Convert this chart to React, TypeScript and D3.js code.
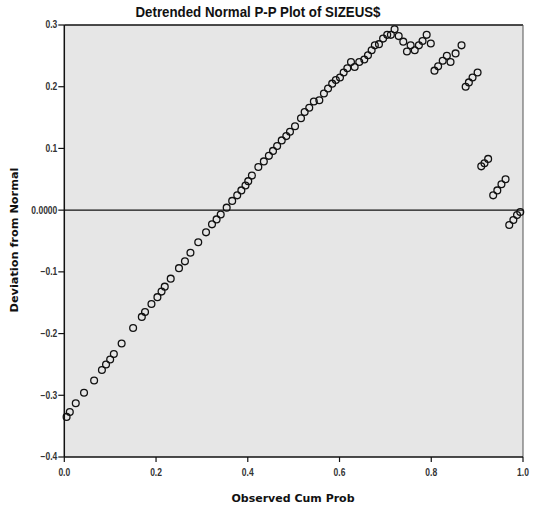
import React from "react";
import * as d3 from "d3";

const title = "Detrended Normal P-P Plot of SIZEUS$";
const xLabel = "Observed Cum Prob";
const yLabel = "Deviation from Normal";
const xTicks = [0, 0.2, 0.4, 0.6, 0.8, 1.0];
const yTicks = [0.3, 0.2, 0.1, 0.0, -0.1, -0.2, -0.3, -0.4];

const obsProb = [
  0.005, 0.012, 0.025, 0.043, 0.065, 0.082, 0.091, 0.1, 0.108, 0.125,
  0.15, 0.169, 0.176, 0.19, 0.203, 0.212, 0.219, 0.232, 0.25, 0.263,
  0.275, 0.292, 0.309, 0.322, 0.332, 0.341, 0.354, 0.366, 0.377, 0.386,
  0.395, 0.401, 0.409, 0.423, 0.435, 0.446, 0.455, 0.464, 0.474, 0.484,
  0.492, 0.503, 0.516, 0.524, 0.534, 0.544, 0.556, 0.566, 0.575, 0.584,
  0.592, 0.601, 0.609, 0.617, 0.625, 0.633, 0.643, 0.654, 0.662, 0.67,
  0.677, 0.686, 0.695, 0.704, 0.712, 0.72, 0.729, 0.739, 0.747, 0.755,
  0.764, 0.773, 0.781, 0.79, 0.799, 0.807, 0.815, 0.825, 0.834, 0.842,
  0.853, 0.866, 0.875, 0.882, 0.89, 0.901, 0.909, 0.916, 0.924, 0.935,
  0.944, 0.953, 0.962, 0.97, 0.979, 0.987, 0.994,
];
const deviation = [
  -0.335, -0.327, -0.313, -0.296, -0.276, -0.259, -0.25, -0.242, -0.233, -0.216,
  -0.191, -0.173, -0.165, -0.152, -0.141, -0.132, -0.124, -0.111, -0.094, -0.083,
  -0.069, -0.052, -0.036, -0.023, -0.015, -0.007, 0.004, 0.015, 0.024, 0.032,
  0.04, 0.047, 0.056, 0.07, 0.079, 0.088, 0.096, 0.104, 0.113, 0.12,
  0.127, 0.136, 0.149, 0.159, 0.166, 0.176, 0.178, 0.189, 0.197, 0.205,
  0.211, 0.215, 0.223, 0.23, 0.24, 0.232, 0.24, 0.244, 0.251, 0.259,
  0.267, 0.269, 0.278, 0.284, 0.284, 0.293, 0.282, 0.273, 0.257, 0.267,
  0.259, 0.267, 0.274, 0.284, 0.27, 0.226, 0.233, 0.242, 0.25, 0.24,
  0.254, 0.267, 0.2, 0.207, 0.215, 0.223, 0.071, 0.076, 0.083, 0.024,
  0.032, 0.042, 0.05, -0.024, -0.016, -0.008, -0.003,
];

const W = 535;
const H = 512;
const left = 64.3;
const right = 523;
const top = 25;
const bottom = 457;

export default function App() {
  const x = d3.scaleLinear().domain([0, 1]).range([left, right]);
  const y = d3.scaleLinear().domain([-0.4, 0.3]).range([bottom, top]);
  const tickFont = "'Liberation Sans', Arial, sans-serif";
  return (
    <svg
      width={W}
      height={H}
      style={{ position: "absolute", left: 0, top: 0, background: "#fff" }}
    >
      <rect x={left} y={top} width={right - left} height={bottom - top} fill="#e6e6e6" />
      <line x1={left} x2={right} y1={top} y2={top} stroke="#111" strokeWidth={1.4} />
      <line x1={right} x2={right} y1={top} y2={bottom} stroke="#555" strokeWidth={1} />
      <line x1={left} x2={right} y1={bottom} y2={bottom} stroke="#111" strokeWidth={1.5} />
      <line x1={left} x2={left} y1={top} y2={bottom} stroke="#111" strokeWidth={1.5} />
      <line x1={left} x2={right} y1={y(0)} y2={y(0)} stroke="#111" strokeWidth={1.3} />
      {yTicks.map((t) => (
        <g key={"y" + t}>
          <line x1={left - 6} x2={left} y1={y(t)} y2={y(t)} stroke="#111" strokeWidth={1.2} />
          <text
            x={left - 7}
            y={y(t) + 3.5}
            textAnchor="end"
            fontSize={10}
            fontWeight="bold"
            fontFamily={tickFont}
            fill="#333"
            transform={`translate(${left - 7},0) scale(0.85,1) translate(${-(left - 7)},0)`}
          >
            {t === 0 ? "0.0000" : d3.format(".1f")(t)}
          </text>
        </g>
      ))}
      {xTicks.map((t) => (
        <g key={"x" + t}>
          <line x1={x(t)} x2={x(t)} y1={bottom} y2={bottom + 5} stroke="#111" strokeWidth={1.2} />
          <text
            x={x(t)}
            y={bottom + 19}
            textAnchor="middle"
            fontSize={10}
            fontWeight="bold"
            fontFamily={tickFont}
            fill="#333"
            transform={`translate(${x(t)},0) scale(0.85,1) translate(${-x(t)},0)`}
          >
            {d3.format(".1f")(t)}
          </text>
        </g>
      ))}
      {obsProb.map((p, i) => (
        <circle
          key={i}
          cx={x(p)}
          cy={y(deviation[i])}
          r={3.4}
          fill="none"
          stroke="#111"
          strokeWidth={1.3}
        />
      ))}
      <text
        x={258}
        y={17}
        textAnchor="middle"
        fontSize={14.5}
        fontWeight="bold"
        fontFamily="'Liberation Sans', Arial, sans-serif"
        fill="#111"
        textLength={245}
        lengthAdjust="spacingAndGlyphs"
      >
        {title}
      </text>
      <text
        x={293}
        y={502}
        textAnchor="middle"
        fontSize={11}
        fontWeight="bold"
        fontFamily="'DejaVu Sans', sans-serif"
        fill="#111"
      >
        {xLabel}
      </text>
      <text
        transform={`translate(18,240) rotate(-90)`}
        textAnchor="middle"
        fontSize={11.3}
        fontWeight="bold"
        fontFamily="'DejaVu Sans', sans-serif"
        fill="#111"
      >
        {yLabel}
      </text>
    </svg>
  );
}
